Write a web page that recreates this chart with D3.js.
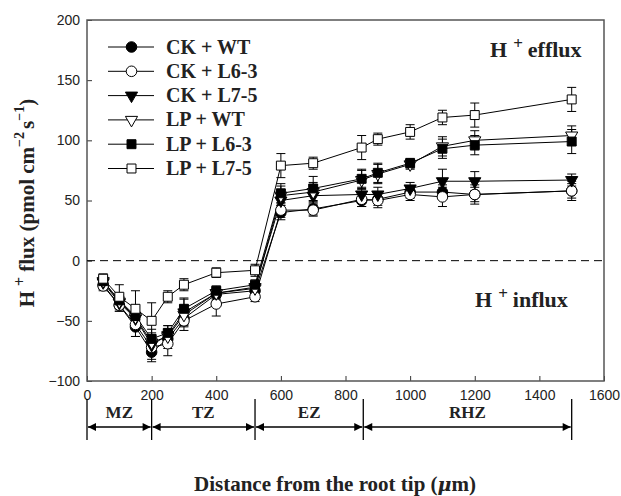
<!DOCTYPE html>
<html>
<head>
<meta charset="utf-8">
<script src="https://cdn.jsdelivr.net/npm/d3@7"></script>
<style>
  body { margin: 0; background: #fff; }
  svg { display: block; }
</style>
</head>
<body>
<div id="chart"></div>
<script>
const distance = [50, 100, 150, 200, 250, 300, 400, 520, 600, 700, 850, 900, 1000, 1100, 1200, 1500];

const ckWT   = [-20, -37, -55, -76, -65, -48, -28, -25, 40, 43, 50, 51, 57, 57, 55, 58];
const ckWTe  = [4, 5, 8, 8, 8, 6, 5, 4, 6, 5, 5, 5, 5, 6, 6, 6];
const ckL63  = [-21, -37, -53, -72, -69, -50, -36, -30, 42, 42, 51, 50, 55, 53, 55, 58];
const ckL63e = [4, 5, 10, 10, 10, 8, 10, 4, 6, 5, 6, 6, 5, 8, 8, 8];
const ckL75  = [-18, -35, -48, -70, -62, -43, -27, -22, 50, 54, 55, 55, 60, 66, 66, 67];
const ckL75e = [5, 5, 8, 8, 8, 12, 5, 4, 8, 8, 6, 6, 5, 10, 8, 5];
const lpWT   = [-17, -34, -47, -68, -63, -45, -27, -23, 54, 57, 67, 72, 80, 95, 100, 104];
const lpWTe  = [5, 5, 8, 8, 6, 8, 4, 4, 8, 8, 8, 8, 4, 8, 8, 8];
const lpL63  = [-17, -33, -46, -65, -60, -40, -25, -20, 56, 60, 68, 73, 81, 93, 96, 99];
const lpL63e = [5, 5, 8, 8, 6, 8, 4, 4, 8, 10, 8, 8, 4, 8, 8, 10];
const lpL75  = [-15, -30, -40, -50, -30, -20, -10, -8, 79, 81, 94, 101, 107, 119, 121, 134];
const lpL75e = [4, 10, 15, 15, 5, 5, 4, 5, 10, 5, 10, 5, 6, 6, 10, 10];

const seriesNames = ["CK + WT", "CK + L6-3", "CK + L7-5", "LP + WT", "LP + L6-3", "LP + L7-5"];
const xTicks = [0, 200, 400, 600, 800, 1000, 1200, 1400, 1600];
const yTicks = [-100, -50, 0, 50, 100, 150, 200];
const zoneBounds = [0, 200, 520, 855, 1500];
const zoneNames = ["MZ", "TZ", "EZ", "RHZ"];

const series = [
  {name: seriesNames[0], v: ckWT,  e: ckWTe,  shape: "circle",   fill: "#000"},
  {name: seriesNames[1], v: ckL63, e: ckL63e, shape: "circle",   fill: "#fff"},
  {name: seriesNames[2], v: ckL75, e: ckL75e, shape: "triangle", fill: "#000"},
  {name: seriesNames[3], v: lpWT,  e: lpWTe,  shape: "triangle", fill: "#fff"},
  {name: seriesNames[4], v: lpL63, e: lpL63e, shape: "square",   fill: "#000"},
  {name: seriesNames[5], v: lpL75, e: lpL75e, shape: "square",   fill: "#fff"}
];

const width = 621, height = 496;
const mLeft = 87, mRight = 604, mTop = 20, mBottom = 381;
const serif = "'Liberation Serif', 'Times New Roman', serif";
const sans = "'Liberation Sans', Arial, sans-serif";

const svg = d3.select("#chart").append("svg").attr("width", width).attr("height", height);

const x = d3.scaleLinear().domain([0, 1600]).range([mLeft, mRight]);
const y = d3.scaleLinear().domain([-100, 200]).range([mBottom, mTop]);

const symbolType = {circle: d3.symbolCircle, square: d3.symbolSquare, triangle: d3.symbolTriangle};
const symbolSize = {circle: 88, square: 80, triangle: 64};
function marker(g, s, cx, cy) {
  g.append("path")
    .attr("d", d3.symbol().type(symbolType[s.shape]).size(symbolSize[s.shape])())
    .attr("transform", `translate(${cx},${cy})` + (s.shape === "triangle" ? " rotate(180)" : ""))
    .attr("fill", s.fill)
    .attr("stroke", "#000")
    .attr("stroke-width", 1);
}

// axes (ticks inward)
const xAxis = svg.append("g")
  .attr("transform", `translate(0,${mBottom})`)
  .call(d3.axisBottom(x).tickValues(xTicks).tickSize(-5).tickPadding(9).tickFormat(d3.format("d")));
const yAxis = svg.append("g")
  .attr("transform", `translate(${mLeft},0)`)
  .call(d3.axisLeft(y).tickValues(yTicks).tickSize(-5).tickPadding(7).tickFormat(d => d < 0 ? "\u2212" + (-d) : d));
[xAxis, yAxis].forEach(a => {
  a.select("path.domain").remove();
  a.selectAll("line").attr("stroke", "#333");
  a.selectAll("text").attr("font-family", sans).attr("font-size", 14).attr("fill", "#222");
});

// frame
svg.append("rect")
  .attr("x", mLeft).attr("y", mTop)
  .attr("width", mRight - mLeft).attr("height", mBottom - mTop)
  .attr("fill", "none").attr("stroke", "#555").attr("stroke-width", 1.5);

// zero line
svg.append("line")
  .attr("x1", mLeft).attr("x2", mRight)
  .attr("y1", y(0)).attr("y2", y(0))
  .attr("stroke", "#000").attr("stroke-width", 1)
  .attr("stroke-dasharray", "8,5");

const line = d3.line().x((d, i) => x(distance[i])).y(d => y(d));

const plot = svg.append("g");
series.forEach(s => {
  plot.append("path")
    .datum(s.v)
    .attr("fill", "none")
    .attr("stroke", "#000")
    .attr("stroke-width", 1)
    .attr("d", line);
});
series.forEach(s => {
  const g = plot.append("g");
  s.v.forEach((v, i) => {
    const cx = x(distance[i]);
    const y1 = y(v + s.e[i]), y2 = y(v - s.e[i]);
    g.append("line").attr("x1", cx).attr("x2", cx).attr("y1", y1).attr("y2", y2).attr("stroke", "#000");
    [y1, y2].forEach(yy => g.append("line")
      .attr("x1", cx - 4.5).attr("x2", cx + 4.5).attr("y1", yy).attr("y2", yy).attr("stroke", "#000"));
  });
});
series.forEach(s => {
  const g = plot.append("g");
  s.v.forEach((v, i) => marker(g, s, x(distance[i]), y(v)));
});

// legend
const legend = svg.append("g");
series.forEach((s, i) => {
  const ly = 47 + i * 24.3;
  legend.append("line").attr("x1", 108).attr("x2", 154).attr("y1", ly).attr("y2", ly).attr("stroke", "#000");
  marker(legend, s, 131.5, ly);
  legend.append("text")
    .attr("x", 166).attr("y", ly + 6.5)
    .attr("font-family", serif).attr("font-weight", "bold").attr("font-size", 20)
    .attr("fill", "#222")
    .text(s.name);
});

// annotations
function hLabel(xp, yp, rest) {
  const t = svg.append("text")
    .attr("x", xp).attr("y", yp)
    .attr("font-family", serif).attr("font-weight", "bold").attr("font-size", 22)
    .attr("fill", "#222");
  t.append("tspan").text("H");
  t.append("tspan").attr("font-size", 17).attr("dx", 6).attr("dy", -8).text("+");
  t.append("tspan").attr("dx", 5).attr("dy", 8).text(rest);
}
hLabel(490, 57, "efflux");
hLabel(475, 307, "influx");

// zone markers
const defs = svg.append("defs");
["start", "end"].forEach(k => {
  defs.append("marker")
    .attr("id", "arrow-" + k)
    .attr("viewBox", "0 0 10 10")
    .attr("refX", k === "end" ? 10 : 0).attr("refY", 5)
    .attr("markerWidth", 10).attr("markerHeight", 8)
    .attr("markerUnits", "userSpaceOnUse")
    .attr("orient", "auto")
    .append("path")
    .attr("d", k === "end" ? "M0,0 L10,5 L0,10 Z" : "M10,0 L0,5 L10,10 Z")
    .attr("fill", "#000");
});
const zones = svg.append("g");
zoneBounds.forEach(b => {
  zones.append("line")
    .attr("x1", x(b)).attr("x2", x(b)).attr("y1", 399).attr("y2", 440)
    .attr("stroke", "#000").attr("stroke-width", 1.3);
});
zoneNames.forEach((n, i) => {
  const x0 = x(zoneBounds[i]), x1 = x(zoneBounds[i + 1]);
  zones.append("line")
    .attr("x1", x0 + 1).attr("x2", x1 - 1).attr("y1", 427).attr("y2", 427)
    .attr("stroke", "#000").attr("stroke-width", 1.6)
    .attr("marker-start", "url(#arrow-start)")
    .attr("marker-end", "url(#arrow-end)");
  zones.append("text")
    .attr("x", (x0 + x1) / 2).attr("y", 418)
    .attr("text-anchor", "middle")
    .attr("font-family", serif).attr("font-weight", "bold").attr("font-size", 17)
    .attr("fill", "#222")
    .text(n);
});

// axis titles
const xt = svg.append("text")
  .attr("x", 335).attr("y", 491)
  .attr("text-anchor", "middle")
  .attr("font-family", serif).attr("font-weight", "bold").attr("font-size", 21)
  .attr("fill", "#222");
xt.append("tspan").text("Distance from the root tip (");
xt.append("tspan").attr("font-style", "italic").attr("font-family", "'DejaVu Serif', serif").attr("font-size", 19).text("\u03bc");
xt.append("tspan").text("m)");

const yt = svg.append("text")
  .attr("transform", "translate(34,203) rotate(-90)")
  .attr("text-anchor", "middle")
  .attr("font-family", serif).attr("font-weight", "bold").attr("font-size", 21)
  .attr("fill", "#222");
yt.append("tspan").text("H");
yt.append("tspan").attr("font-size", 16).attr("dx", 5).attr("dy", -9).text("+");
yt.append("tspan").attr("dx", 5).attr("dy", 9).text("flux (pmol cm");
yt.append("tspan").attr("font-size", 14).attr("dy", -10).text("\u22122");
yt.append("tspan").attr("dx", 3).attr("dy", 10).text("s");
yt.append("tspan").attr("font-size", 14).attr("dy", -10).text("\u22121");
yt.append("tspan").attr("dy", 10).text(")");
</script>
</body>
</html>
